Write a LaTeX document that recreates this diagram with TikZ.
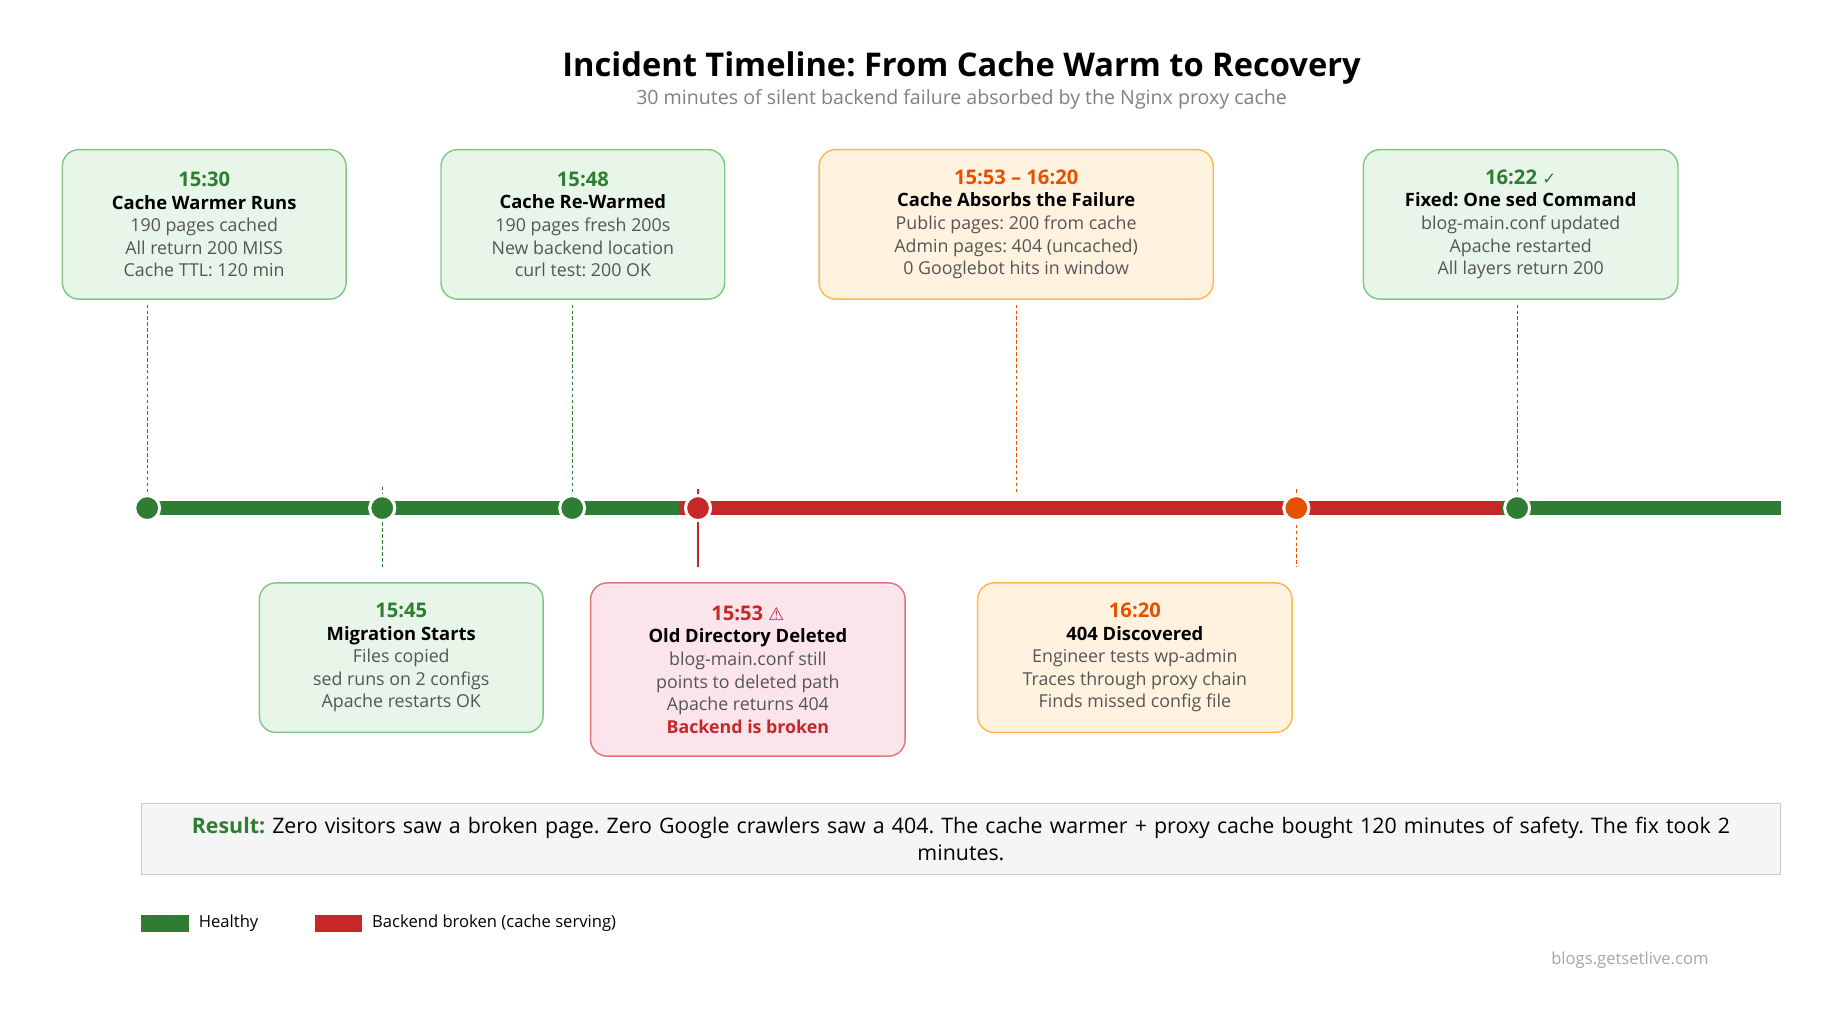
\documentclass[tikz,border=0pt]{standalone}
\usepackage{fontspec}
\setmainfont{Open Sans}
\newfontfamily\symfont{DejaVu Sans}
\frenchspacing
\hyphenpenalty=10000
\definecolor{okgreen}{HTML}{2E7D32}
\definecolor{okfill}{HTML}{E8F5E9}
\definecolor{okedge}{HTML}{81C784}
\definecolor{warnfill}{HTML}{FFF3E0}
\definecolor{warnedge}{HTML}{FFB74D}
\definecolor{warntext}{HTML}{E65100}
\definecolor{badfill}{HTML}{FCE4EC}
\definecolor{badedge}{HTML}{E57373}
\definecolor{badred}{HTML}{C62828}
\definecolor{bodygray}{HTML}{555555}
\tikzset{
  event/.style={draw, rounded corners=14pt, line width=1.2pt, align=center,
    inner sep=0pt, minimum height=126pt,
    font=\fontsize{15pt}{19pt}\selectfont\color{bodygray}},
  good/.style={event, fill=okfill, draw=okedge},
  warn/.style={event, fill=warnfill, draw=warnedge},
  bad/.style={event, fill=badfill, draw=badedge},
  dot/.style={circle, minimum size=21pt, inner sep=0pt, draw=white, line width=2.5pt},
  track/.style={line width=12pt},
  link/.style={densely dashed, line width=1pt},
}
\newcommand{\hd}[2]{{\fontsize{17pt}{19pt}\selectfont\bfseries\color{#1}#2}\\}
\newcommand{\ttl}[1]{{\fontsize{15.5pt}{19pt}\selectfont\bfseries\color{black}#1}\\}
\begin{document}
\begin{tikzpicture}[x=1pt,y=-1pt]
  \useasboundingbox (0,0) rectangle (1550,855);
  % title
  \node (title) at (810,57) {\fontsize{27.5pt}{30pt}\selectfont\bfseries Incident Timeline: From Cache Warm to Recovery};
  \node[text=gray] (sub) at (810,84) {\fontsize{16.5pt}{18pt}\selectfont 30 minutes of silent backend failure absorbed by the Nginx proxy cache};

  % timeline
  \draw[track, okgreen] (124,428) -- (572,428);
  \draw[track, badred] (572,428) -- (1265,428);
  \draw[track, okgreen] (1265,428) -- (1500,428);
  \node[dot, fill=okgreen] (t1530) at (124,428) {};
  \node[dot, fill=okgreen] (t1545) at (322,428) {};
  \node[dot, fill=okgreen] (t1548) at (482,428) {};
  \node[dot, fill=badred] (t1553) at (588,428) {};
  \node[dot, fill=warntext] (t1620) at (1092,428) {};
  \node[dot, fill=okgreen] (t1622) at (1278,428) {};

  % upper events
  \node[good, minimum width=239pt] (warm) at (172,189)
    {\hd{okgreen}{15:30}\ttl{Cache Warmer Runs}190 pages cached\\All return 200 MISS\\Cache TTL: 120 min};
  \node[good, minimum width=239pt] (rewarm) at (491,189)
    {\hd{okgreen}{15:48}\ttl{Cache Re-Warmed}190 pages fresh 200s\\New backend location\\curl test: 200 OK};
  \node[warn, minimum width=332pt] (absorb) at (856,189)
    {\hd{warntext}{15:53 – 16:20}\ttl{Cache Absorbs the Failure}Public pages: 200 from cache\\Admin pages: 404 (uncached)\\0 Googlebot hits in window};
  \node[good, minimum width=265pt] (fixed) at (1281,189)
    {\hd{okgreen}{16:22 {\symfont\fontsize{14pt}{14pt}\selectfont ✓}}\ttl{Fixed: One sed Command}blog-main.conf updated\\Apache restarted\\All layers return 200};

  % lower events
  \node[good, minimum width=239pt] (migrate) at (338,554)
    {\hd{okgreen}{15:45}\ttl{Migration Starts}Files copied\\sed runs on 2 configs\\Apache restarts OK};
  \node[bad, minimum width=265pt, minimum height=146pt] (deleted) at (630,564)
    {\hd{badred}{15:53 {\symfont\fontsize{15pt}{15pt}\selectfont ⚠}}\ttl{Old Directory Deleted}blog-main.conf still\\points to deleted path\\Apache returns 404\\{\bfseries\color{badred}Backend is broken}};
  \node[warn, minimum width=265pt] (found) at (956,554)
    {\hd{warntext}{16:20}\ttl{404 Discovered}Engineer tests wp-admin\\Traces through proxy chain\\Finds missed config file};

  % connectors
  \coordinate (absorbend) at (856,415);
  \coordinate (migtop) at (322,478);
  \coordinate (deltop) at (588,478);
  \coordinate (foundtop) at (1092,478);
  \coordinate (delhead) at (588,412);
  \coordinate (migstem) at (322,410);
  \coordinate (foundstem) at (1092,412);
  \draw[link, okgreen] ([yshift=-4pt]warm.south -| t1530) -- (t1530.north);
  \draw[link, okgreen] ([yshift=-4pt]rewarm.south -| t1548) -- (t1548.north);
  \draw[link, warntext] ([yshift=-4pt]absorb.south) -- (absorbend);
  \draw[link, okgreen] ([yshift=-4pt]fixed.south -| t1622) -- (t1622.north);
  \draw[link, okgreen] (migstem) -- (migtop);
  \draw[link, warntext] (foundstem) -- (foundtop);
  \draw[line width=2pt, badred] (delhead) -- (deltop);
  \node[dot, fill=okgreen] at (t1545) {};
  \node[dot, fill=badred] at (t1553) {};
  \node[dot, fill=warntext] at (t1620) {};

  % result
  \node[draw=black!20, fill=black!4, line width=1pt, minimum width=1381pt, minimum height=60pt,
    text width=1360pt, align=center, inner sep=0pt, font=\fontsize{18pt}{23pt}\selectfont] (result) at (809.5,707)
    {{\bfseries\color{okgreen}Result:} Zero visitors saw a broken page. Zero Google crawlers saw a 404. The cache warmer + proxy cache bought 120 minutes of safety. The fix took 2 minutes.};

  % legend
  \node[fill=okgreen, minimum width=40pt, minimum height=14pt, inner sep=0pt] (keyok) at (139,778) {};
  \node[anchor=west, font=\fontsize{14pt}{16pt}\selectfont] (keyoktxt) at (164,778) {Healthy};
  \node[fill=badred, minimum width=40pt, minimum height=14pt, inner sep=0pt] (keybad) at (285,778) {};
  \node[anchor=west, font=\fontsize{14pt}{16pt}\selectfont] (keybadtxt) at (310,778) {Backend broken (cache serving)};
  \node[text=black!35, font=\fontsize{14pt}{16pt}\selectfont] (credit) at (1373,809) {blogs.getsetlive.com};
\end{tikzpicture}
\end{document}
